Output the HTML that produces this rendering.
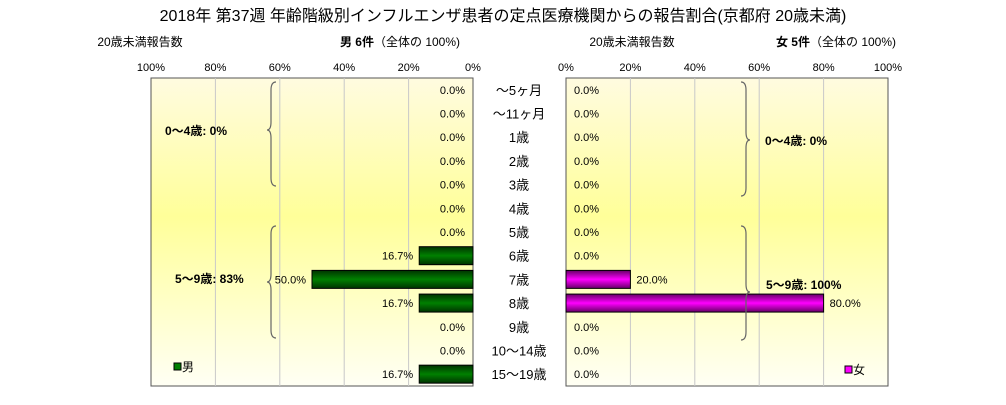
<!DOCTYPE html>
<html><head><meta charset="utf-8"><style>
body{margin:0;background:#fff;}
svg text{font-family:"Liberation Sans","Noto Sans CJK JP",sans-serif;}
</style></head><body>
<svg id="c" width="1006" height="400" xmlns="http://www.w3.org/2000/svg">
<defs>
<linearGradient id="bg" x1="0" y1="0" x2="0" y2="1">
<stop offset="0" stop-color="#fffbe0"/><stop offset="0.45" stop-color="#ffff99"/><stop offset="1" stop-color="#fffff4"/>
</linearGradient>
<linearGradient id="gm" x1="0" y1="0" x2="0" y2="1">
<stop offset="0" stop-color="#003300"/><stop offset="0.5" stop-color="#008000"/><stop offset="1" stop-color="#003300"/>
</linearGradient>
<linearGradient id="gf" x1="0" y1="0" x2="0" y2="1">
<stop offset="0" stop-color="#660066"/><stop offset="0.5" stop-color="#ff00ff"/><stop offset="1" stop-color="#660066"/>
</linearGradient>
</defs>
<text x="503" y="21" font-size="16" text-anchor="middle">2018年 第37週 年齢階級別インフルエンザ患者の定点医療機関からの報告割合(京都府 20歳未満)</text>
<text x="140" y="46" font-size="12" text-anchor="middle">20歳未満報告数</text>
<text x="400" y="46" font-size="12" text-anchor="middle"><tspan font-weight="bold">男 6件</tspan>（全体の 100%)</text>
<text x="632" y="46" font-size="12" text-anchor="middle">20歳未満報告数</text>
<text x="836" y="46" font-size="12" text-anchor="middle"><tspan font-weight="bold">女 5件</tspan>（全体の 100%)</text>
<g id="L"></g><g id="R"></g><g id="labels"></g>
<g fill="none" stroke="#666" stroke-width="1.2">
<path d="M276,82 q-5,0 -5,8 v32 q0,8 -4,8 q4,0 4,8 v40 q0,8 5,8"/>
<path d="M276,226 q-5,0 -5,8 v40 q0,8 -4,8 q4,0 4,8 v40 q0,8 5,8"/>
<path d="M741,82 q5,0 5,8 v42 q0,8 4,8 q-4,0 -4,8 v40 q0,8 -5,8"/>
<path d="M741,226 q5,0 5,8 v50 q0,8 4,8 q-4,0 -4,8 v32 q0,8 -5,8"/>
</g>
<text x="165" y="135" font-size="12" font-weight="bold">0～4歳: 0%</text>
<text x="175" y="283" font-size="12" font-weight="bold">5～9歳: 83%</text>
<text x="765" y="145" font-size="12" font-weight="bold">0～4歳: 0%</text>
<text x="766" y="289" font-size="12" font-weight="bold">5～9歳: 100%</text>
<rect x="174" y="363" width="7" height="7" fill="#008000" stroke="#000"/>
<text x="182" y="371" font-size="12">男</text>
<rect x="845" y="366" width="7" height="7" fill="#ff00ff" stroke="#000"/>
<text x="853" y="374" font-size="12">女</text>
</svg>
<script>
const categories=["～5ヶ月","～11ヶ月","1歳","2歳","3歳","4歳","5歳","6歳","7歳","8歳","9歳","10～14歳","15～19歳"];
const maleValues=[0,0,0,0,0,0,0,16.7,50.0,16.7,0,0,16.7];
const femaleValues=[0,0,0,0,0,0,0,0,20.0,80.0,0,0,0];
const tickLabels=["0%","20%","40%","60%","80%","100%"];
const NS="http://www.w3.org/2000/svg";
const plotTop=78,plotBot=386,nCat=categories.length,band=(plotBot-plotTop)/nCat,scale=322/100;
const lx0=473,rx0=566;
function mk(p,t,a){const e=document.createElementNS(NS,t);for(const k in a)e.setAttribute(k,a[k]);p.appendChild(e);return e;}
function yAt(i){return plotTop+band*(i+0.5);}
function side(g,x0,dir,vals,grad,name){
  const bg=mk(g,'rect',{x:dir<0?x0-322:x0,y:plotTop,width:322,height:plotBot-plotTop,fill:'url(#bg)',stroke:'#555'});
  
  
  tickLabels.forEach((t,k)=>{
    const v=k*20,x=x0+dir*v*scale;
    if(k>0&&k<5){const l=mk(g,'line',{x1:x,x2:x,y1:plotTop,y2:plotBot,stroke:'#c8c8c8'});
      
      }
    const tx=mk(g,'text',{x:x,y:71,'font-size':11,'text-anchor':'middle'});tx.textContent=t;
    
    
  });
  vals.forEach((v,i)=>{
    const y=yAt(i),w=v*scale;
    if(v>0){const r=mk(g,'rect',{x:dir<0?x0-w:x0,y:y-9,width:w,height:18,fill:'url(#'+grad+')',stroke:'#000'});
      
      }
    const lab=mk(g,'text',{x:x0+dir*(w+(v>0?6:8)),y:y+4,'font-size':11,'text-anchor':dir<0?'end':'start'});
    lab.textContent=v.toFixed(1)+'%';
    
    
  });
}
side(document.getElementById('L'),lx0,-1,maleValues,'gm','male');
side(document.getElementById('R'),rx0,1,femaleValues,'gf','female');
const lg=document.getElementById('labels');
categories.forEach((c,i)=>{const t=mk(lg,'text',{x:519,y:yAt(i)+5,'font-size':13,'text-anchor':'middle'});t.textContent=c;
  
  });
</script>
</body></html>
